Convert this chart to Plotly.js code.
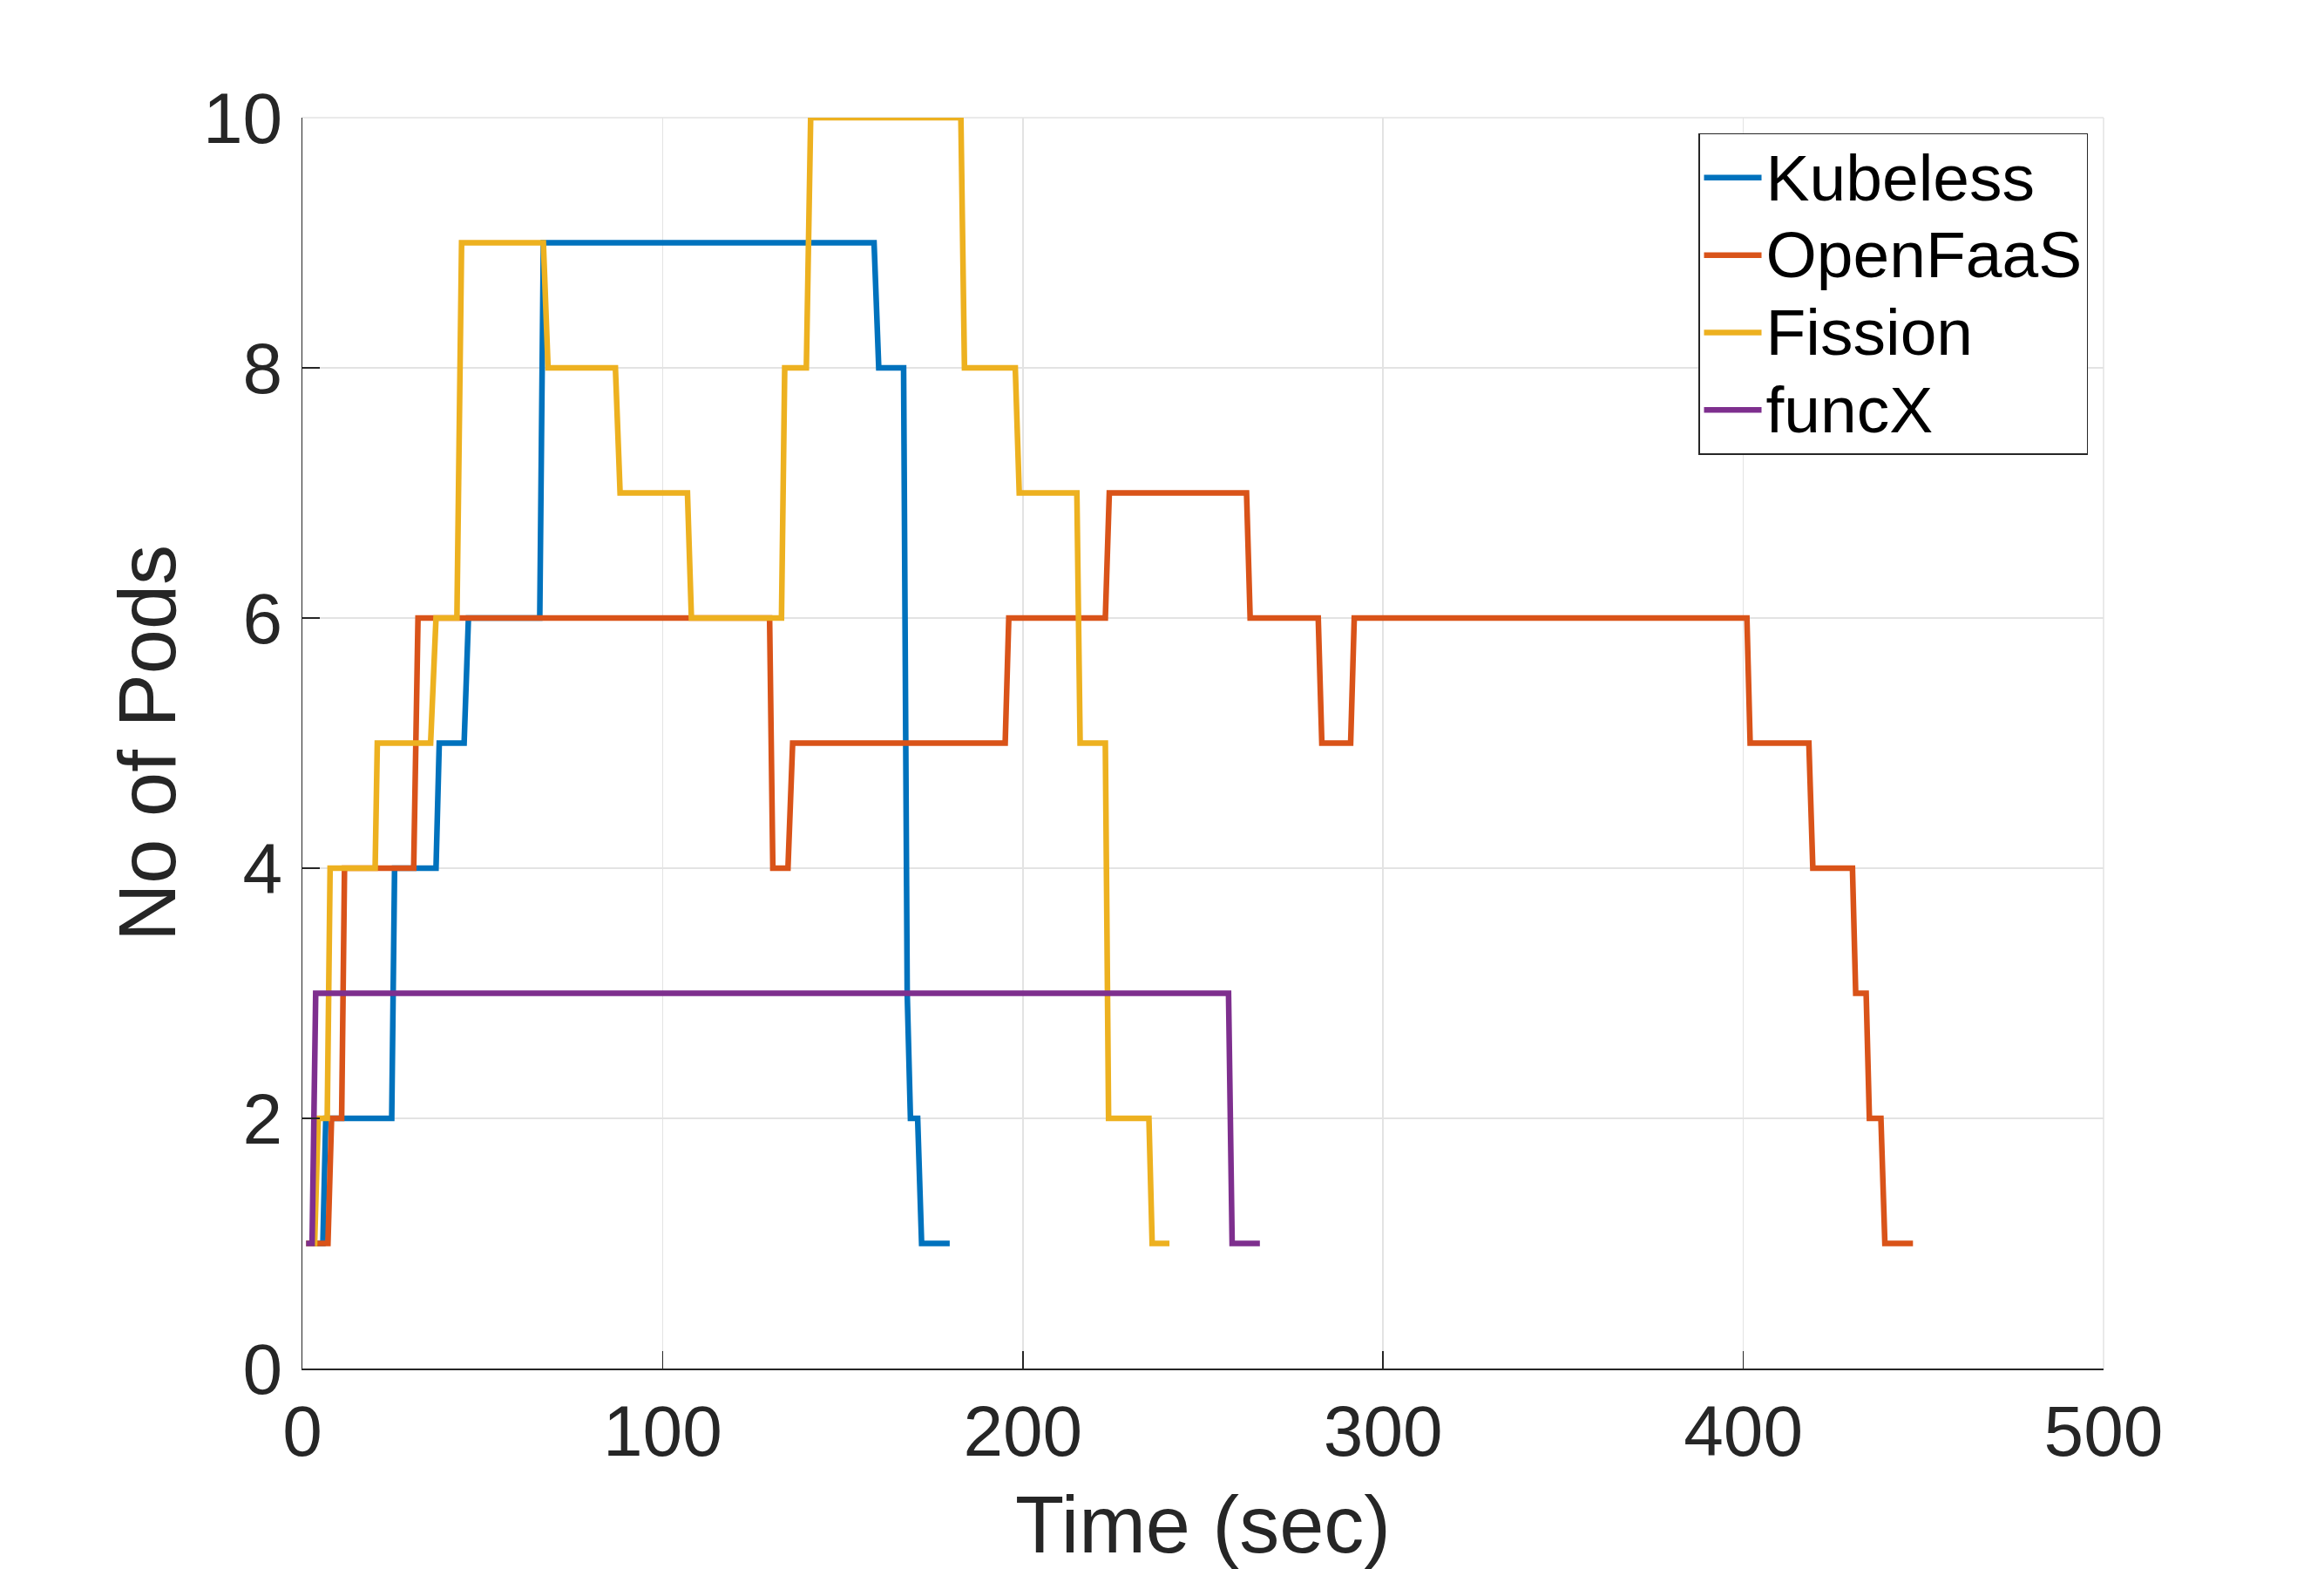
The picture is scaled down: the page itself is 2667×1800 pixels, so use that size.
<!DOCTYPE html>
<html>
<head>
<meta charset="utf-8">
<script src="https://cdn.plot.ly/plotly-3.0.1.min.js"></script>
<style>html,body{margin:0;padding:0;background:#fff;}#chart{width:2667px;height:1800px;}</style>
</head>
<body>
<div id="chart"></div>
<script>
// Kubeless
const kubelessT = [1.1, 5.7, 6.5, 24.8, 25.6, 37.1, 38.0, 44.9, 46.1, 65.9, 66.9, 158.7, 160.0, 166.9, 167.9, 168.8, 170.8, 171.9, 179.7];
const kubelessY = [1, 1, 2, 2, 4, 4, 5, 5, 6, 6, 9, 9, 8, 8, 3, 2, 2, 1, 1];
// OpenFaaS
const openfaasT = [1.1, 7.1, 8.1, 10.9, 11.7, 30.9, 32.1, 129.7, 130.6, 134.8, 136.1, 195.1, 196.1, 222.9, 224.0, 262.1, 263.1, 282.0, 283.0, 291.0, 292.0, 401.0, 401.9, 418.2, 419.3, 430.3, 431.2, 434.1, 435.0, 438.2, 439.3, 447.1];
const openfaasY = [1, 1, 2, 2, 4, 4, 6, 6, 4, 4, 5, 5, 6, 6, 7, 7, 6, 6, 5, 5, 6, 6, 5, 5, 4, 4, 3, 3, 2, 2, 1, 1];
// Fission
const fissionT = [1.1, 3.4, 4.4, 6.9, 7.7, 20.2, 20.8, 35.6, 37.1, 42.9, 44.2, 66.9, 68.2, 86.9, 88.2, 106.9, 108.0, 133.0, 133.9, 139.9, 141.1, 182.8, 183.8, 197.9, 199.0, 215.0, 215.9, 222.9, 223.8, 235.0, 235.9, 240.7];
const fissionY = [1, 1, 2, 2, 4, 4, 5, 5, 6, 6, 9, 9, 8, 8, 7, 7, 6, 6, 8, 8, 10, 10, 8, 8, 7, 7, 5, 5, 2, 2, 1, 1];
// funcX
const funcxT = [1.06, 2.7, 3.7, 257.1, 258.1, 265.8];
const funcxY = [1, 1, 3, 3, 1, 1];

const seriesNames = ["Kubeless", "OpenFaaS", "Fission", "funcX"];
const seriesColors = ["#0072BD", "#D95319", "#EDB120", "#7E2F8E"];
const xTicks = [0, 100, 200, 300, 400, 500];
const yTicks = [0, 2, 4, 6, 8, 10];

const xs = [kubelessT, openfaasT, fissionT, funcxT];
const ys = [kubelessY, openfaasY, fissionY, funcxY];

const FONT = "Liberation Sans, Arial, Helvetica, sans-serif";
const traces = seriesNames.map((n, i) => ({
  type: "scatter", mode: "lines",
  name: '<span style="font-size:75px">' + n + '</span>',
  x: xs[i], y: ys[i],
  line: {color: seriesColors[i], width: 6.5, shape: "linear"}
}));

const axisCommon = {
  showline: true, linecolor: "#262626", linewidth: 1.5,
  ticks: "inside", ticklen: 20, tickwidth: 1.5, tickcolor: "#262626",
  showgrid: true, gridcolor: "#e3e3e3", gridwidth: 1.5,
  zeroline: false, mirror: false,
  tickfont: {family: FONT, size: 82, color: "#262626"},
  automargin: false
};

const layout = {
  width: 2667, height: 1800,
  paper_bgcolor: "#ffffff", plot_bgcolor: "#ffffff",
  margin: {l: 347, r: 253, t: 135, b: 230, pad: 0},
  showlegend: true,
  legend: {
    x: 0.9913, y: 0.9875, xanchor: "right", yanchor: "top",
    bgcolor: "#ffffff", bordercolor: "#262626", borderwidth: 1.5,
    font: {family: FONT, size: 66, color: "#000000"},
    itemwidth: 66, tracegroupgap: 0
  },
  xaxis: Object.assign({}, axisCommon, {
    range: [0, 500], tickvals: xTicks, ticktext: xTicks.map(String),
    ticklabelstandoff: 0,
    title: {text: "Time (sec)", font: {family: FONT, size: 92, color: "#262626"}, standoff: 50}
  }),
  yaxis: Object.assign({}, axisCommon, {
    range: [0, 10], tickvals: yTicks, ticktext: yTicks.map(String),
    ticklabelstandoff: 5,
    title: {text: "No of Pods", font: {family: FONT, size: 92, color: "#262626"}, standoff: 0}
  }),
  shapes: [
    {type: "line", xref: "paper", yref: "paper", x0: 0, x1: 1, y0: 1, y1: 1, line: {color: "#e3e3e3", width: 1.5}, layer: "below"},
    {type: "line", xref: "paper", yref: "paper", x0: 1, x1: 1, y0: 0, y1: 1, line: {color: "#e3e3e3", width: 1.5}, layer: "below"}
  ]
};

Plotly.newPlot("chart", traces, layout, {displayModeBar: false, staticPlot: true});
</script>
</body>
</html>
